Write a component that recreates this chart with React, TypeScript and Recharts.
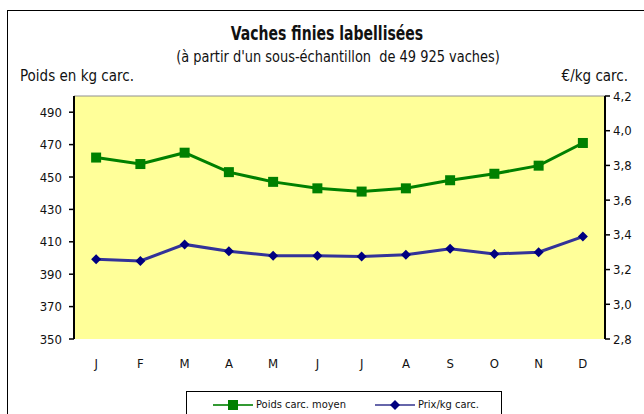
import {
  LineChart,
  Line,
  XAxis,
  YAxis,
  ReferenceArea,
  ReferenceLine,
} from 'recharts'

// Months, then monthly values.
const MONTHS = ['J', 'F', 'M', 'A', 'M', 'J', 'J', 'A', 'S', 'O', 'N', 'D']
const POIDS = [462, 458, 465, 453, 447, 443, 441, 443, 448, 452, 457, 471]
const PRIX = [3.26, 3.25, 3.345, 3.305, 3.28, 3.28, 3.275, 3.285, 3.32, 3.29, 3.3, 3.39]

const LEFT_TICKS = [350, 370, 390, 410, 430, 450, 470, 490]
const RIGHT_TICKS = [2.8, 3.0, 3.2, 3.4, 3.6, 3.8, 4.0, 4.2]
const BOUNDS = [0, 1, 2, 3, 4, 5, 6, 7, 8, 9, 10, 11, 12]
const CENTERS = MONTHS.map((_, i) => i + 0.5)

const FONT = "'Liberation Sans Narrow', 'DejaVu Sans Condensed', 'Roboto Condensed', sans-serif"
const GREEN = '#008000'
const NAVY = '#000080'
const NAVY_LINE = '#333399'
const PLOT_BG = '#FFFF99'

const data = MONTHS.map((m, i) => ({ pos: i + 0.5, month: m, poids: POIDS[i], prix: PRIX[i] }))

const tickStyle = { fill: '#111', fontSize: 13, fontFamily: FONT }

function SquareDot(props: any) {
  const { cx, cy, index } = props
  return <rect key={`sq-${index}`} x={cx - 5} y={cy - 5} width={10} height={10} fill={GREEN} />
}

function DiamondDot(props: any) {
  const { cx, cy, index } = props
  return (
    <polygon
      key={`dm-${index}`}
      points={`${cx},${cy - 5} ${cx + 5},${cy} ${cx},${cy + 5} ${cx - 5},${cy}`}
      fill={NAVY}
    />
  )
}

function LegendBox() {
  return (
    <div
      style={{
        position: 'absolute',
        left: 186,
        top: 391,
        width: 314,
        height: 40,
        border: '1px solid #000',
        background: '#fff',
        fontFamily: FONT,
        fontSize: 11,
        color: '#111',
      }}
    >
      <div style={{ position: 'absolute', left: 26, top: 6, display: 'flex', alignItems: 'center' }}>
        <svg width={40} height={12}>
          <line x1={0} y1={6} x2={40} y2={6} stroke="#339933" strokeWidth={2} />
          <rect x={15} y={1} width={10} height={10} fill={GREEN} />
        </svg>
        <span style={{ marginLeft: 3 }}>Poids carc. moyen</span>
      </div>
      <div style={{ position: 'absolute', left: 188, top: 6, display: 'flex', alignItems: 'center' }}>
        <svg width={40} height={12}>
          <line x1={0} y1={6} x2={40} y2={6} stroke="#6666aa" strokeWidth={2} />
          <polygon points="20,1 25,6 20,11 15,6" fill={NAVY} />
        </svg>
        <span style={{ marginLeft: 3 }}>Prix/kg carc.</span>
      </div>
    </div>
  )
}

export default function App() {
  return (
    <div
      style={{
        position: 'absolute',
        left: 0,
        top: 0,
        width: 644,
        height: 414,
        overflow: 'hidden',
        background: '#fff',
        fontFamily: FONT,
      }}
    >
      <div
        style={{
          position: 'absolute',
          left: 7,
          top: 10,
          width: 700,
          height: 500,
          border: '1px solid #000',
        }}
      />
      <div
        style={{
          position: 'absolute',
          left: 5,
          top: 22,
          width: 644,
          textAlign: 'center',
          fontSize: 19,
          fontWeight: 'bold',
          color: '#111',
          transform: 'scaleX(0.82)',
        }}
      >
        Vaches finies labellisées
      </div>
      <div
        style={{
          position: 'absolute',
          left: 16,
          top: 48,
          width: 644,
          textAlign: 'center',
          fontSize: 15,
          color: '#111',
          transform: 'scaleX(0.96)',
        }}
      >
        (à partir d'un sous-échantillon&nbsp; de 49 925 vaches)
      </div>
      <div style={{ position: 'absolute', left: 20, top: 67, fontSize: 15, color: '#111' }}>
        Poids en kg carc.
      </div>
      <div style={{ position: 'absolute', right: 16, top: 67, fontSize: 15, color: '#111' }}>
        €/kg carc.
      </div>

      <div style={{ position: 'absolute', left: 0, top: 0 }}>
        <LineChart
          width={644}
          height={414}
          data={data}
          margin={{ top: 96, right: 0, bottom: 35, left: 0 }}
        >
          <XAxis
            xAxisId="bounds"
            type="number"
            dataKey="pos"
            domain={[0, 12]}
            ticks={BOUNDS}
            height={0}
            tickFormatter={() => ''}
            axisLine={{ stroke: '#000', strokeWidth: 2 }}
            tickLine={{ stroke: '#000', strokeWidth: 1.5 }}
            tickSize={5}
          />
          <XAxis
            xAxisId="months"
            type="number"
            dataKey="pos"
            domain={[0, 12]}
            ticks={CENTERS}
            height={40}
            tickFormatter={(v) => MONTHS[Math.round(Number(v) - 0.5)] ?? ''}
            axisLine={false}
            tickLine={false}
            tickSize={0}
            tickMargin={20}
            tick={tickStyle}
            interval={0}
          />
          <YAxis
            yAxisId="left"
            orientation="left"
            domain={[350, 500]}
            ticks={LEFT_TICKS}
            width={74}
            axisLine={{ stroke: '#000', strokeWidth: 2 }}
            tickLine={{ stroke: '#000', strokeWidth: 1.5 }}
            tickSize={5}
            tickMargin={7}
            tick={tickStyle}
            interval={0}
          />
          <YAxis
            yAxisId="right"
            orientation="right"
            domain={[2.8, 4.2]}
            ticks={RIGHT_TICKS}
            width={39}
            axisLine={{ stroke: '#000', strokeWidth: 2 }}
            tickLine={{ stroke: '#000', strokeWidth: 1.5 }}
            tickSize={5}
            tickMargin={3}
            tick={tickStyle}
            tickFormatter={(v) => Number(v).toFixed(1).replace('.', ',')}
            interval={0}
          />
          <ReferenceArea
            xAxisId="bounds"
            yAxisId="left"
            y1={350}
            y2={500}
            fill={PLOT_BG}
            fillOpacity={1}
            stroke="none"
          />
          <ReferenceLine xAxisId="bounds" yAxisId="left" y={500} stroke="#909090" strokeWidth={1} />
          <Line
            xAxisId="months"
            yAxisId="left"
            dataKey="poids"
            stroke={GREEN}
            strokeWidth={3}
            dot={SquareDot}
            activeDot={false}
            isAnimationActive={false}
          />
          <Line
            xAxisId="months"
            yAxisId="right"
            dataKey="prix"
            stroke={NAVY_LINE}
            strokeWidth={3}
            dot={DiamondDot}
            activeDot={false}
            isAnimationActive={false}
          />
        </LineChart>
      </div>
      <LegendBox />
    </div>
  )
}
